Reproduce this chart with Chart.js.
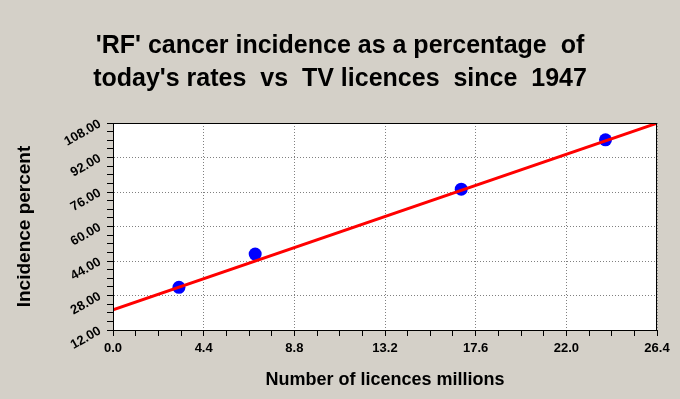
<!DOCTYPE html>
<html>
<head>
<meta charset="utf-8">
<script src="https://cdn.jsdelivr.net/npm/chart.js@4"></script>
<style>
  html, body { margin: 0; padding: 0; background: #d4d0c8; }
  #wrap { width: 680px; height: 399px; }
</style>
</head>
<body>
<div id="wrap"><canvas id="chart" width="680" height="399"></canvas></div>
<script>
// values
const licences = [3.2, 6.9, 16.9, 23.9];        // millions
const incidence = [31.8, 47.2, 77.3, 100.2];    // percent
const fitX = [0, 26.4];
const fitY = [21.3, 107.9];
const titleLines = ["'RF' cancer incidence as a percentage  of", "today's rates  vs  TV licences  since  1947"];
const xTitle = 'Number of licences millions';
const yTitle = 'Incidence percent';
const xTicks = { min: 0, max: 26.4, major: 4.4, minor: 1.1 };
const yTicks = { min: 12, max: 108, major: 16, minor: 4 };

const isMajor = (v, t) => {
  const r = (v - t.min) / t.major;
  return Math.abs(r - Math.round(r)) < 1e-6;
};

const points = licences.map((x, i) => ({ x: x, y: incidence[i] }));
const fitLine = fitX.map((x, i) => ({ x: x, y: fitY[i] }));

const FONT = '"Liberation Sans", Arial, sans-serif';

// grey page, white plot area, black frame
const framePlugin = {
  id: 'frame',
  beforeDraw(chart) {
    const { ctx, chartArea: a } = chart;
    ctx.save();
    ctx.fillStyle = '#d4d0c8';
    ctx.fillRect(0, 0, chart.width, chart.height);
    ctx.fillStyle = '#ffffff';
    ctx.fillRect(a.left, a.top, a.right - a.left, a.bottom - a.top);
    ctx.restore();
  },
  afterDraw(chart) {
    const { ctx, chartArea: a } = chart;
    ctx.save();
    ctx.strokeStyle = '#000000';
    ctx.lineWidth = 1;
    ctx.strokeRect(Math.round(a.left) + 0.5, Math.round(a.top) + 0.5,
      Math.round(a.right - a.left) - 1, Math.round(a.bottom - a.top));
    ctx.restore();
  }
};

new Chart(document.getElementById('chart'), {
  data: {
    datasets: [
      {
        type: 'line',
        label: 'fit',
        data: fitLine,
        borderColor: '#ff0000',
        borderWidth: 3,
        pointRadius: 0,
        order: 0
      },
      {
        type: 'scatter',
        label: 'data',
        data: points,
        backgroundColor: '#0000ff',
        borderColor: '#0000ff',
        borderWidth: 0,
        pointRadius: 6.5,
        order: 1
      }
    ]
  },
  options: {
    responsive: false,
    animation: false,
    devicePixelRatio: 1,
    layout: { padding: 0 },
    plugins: {
      legend: { display: false },
      tooltip: { enabled: false },
      title: {
        display: true,
        text: titleLines,
        color: '#000000',
        font: { family: FONT, size: 25, weight: 'bold', lineHeight: '33px' },
        padding: { top: 30, bottom: 27 }
      }
    },
    scales: {
      x: {
        type: 'linear',
        position: 'bottom',
        min: xTicks.min,
        max: xTicks.max,
        afterFit(s) { s.height = 69; },
        border: { display: true, color: '#000000', dash: [1, 2] },
        grid: {
          drawOnChartArea: true,
          color: (c) => (c.tick && isMajor(c.tick.value, xTicks) ? '#808080' : 'rgba(0,0,0,0)'),
          tickColor: '#000000',
          tickLength: 6
        },
        ticks: {
          stepSize: xTicks.minor,
          autoSkip: false,
          maxRotation: 0,
          minRotation: 0,
          padding: 5,
          color: '#000000',
          font: { family: FONT, size: 13, weight: 'bold' },
          callback: (v) => (isMajor(v, xTicks) ? Number(v).toFixed(1) : '')
        },
        title: {
          display: true,
          text: xTitle,
          color: '#000000',
          font: { family: FONT, size: 18, weight: 'bold', lineHeight: '22px' },
          padding: { top: 0, bottom: 8 }
        }
      },
      y: {
        type: 'linear',
        position: 'left',
        min: yTicks.min,
        max: yTicks.max,
        afterFit(s) { s.width = 113; },
        border: { display: true, color: '#000000', dash: [1, 2] },
        grid: {
          drawOnChartArea: true,
          color: (c) => (c.tick && isMajor(c.tick.value, yTicks) ? '#808080' : 'rgba(0,0,0,0)'),
          tickColor: '#000000',
          tickLength: 6
        },
        ticks: {
          stepSize: yTicks.minor,
          autoSkip: false,
          minRotation: 30,
          maxRotation: 30,
          padding: 7,
          color: '#000000',
          font: { family: FONT, size: 13, weight: 'bold' },
          callback: (v) => (isMajor(v, yTicks) ? Number(v).toFixed(2) : '')
        },
        title: {
          display: true,
          text: yTitle,
          color: '#000000',
          font: { family: FONT, size: 19, weight: 'bold', lineHeight: '22px' },
          padding: { top: 14, bottom: 0 }
        }
      },
      yRight: {
        type: 'linear',
        position: 'right',
        display: true,
        afterFit(s) { s.width = 23; },
        border: { display: false },
        grid: { display: false },
        ticks: { display: false }
      }
    }
  },
  plugins: [framePlugin]
});
</script>
</body>
</html>
